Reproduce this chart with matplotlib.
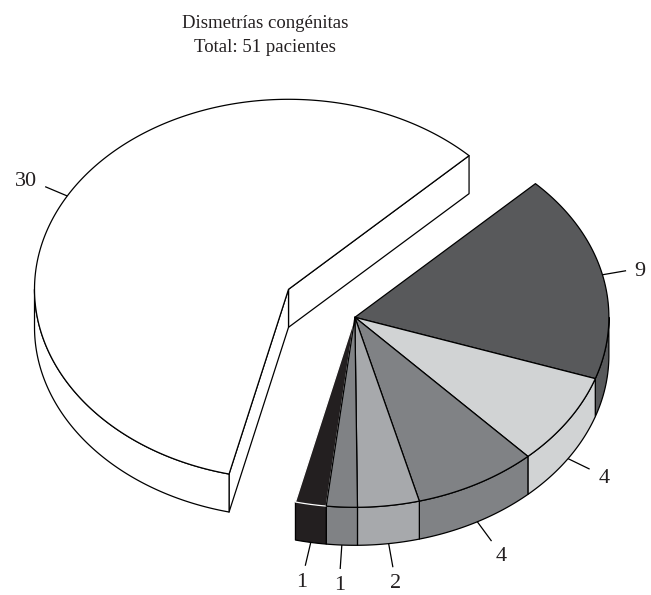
import numpy as np
import matplotlib
matplotlib.use("Agg")
import matplotlib.pyplot as plt
from matplotlib.patches import Polygon

# Patients per group of congenital limb-length discrepancy
values = [9, 4, 4, 2, 1, 1, 30]
labels = ["9", "4", "4", "2", "1", "1", "30"]
colors = ["#58595b", "#d1d3d4", "#808285", "#a7a9ac", "#808285", "#231f20", "#ffffff"]
# which exploded block each slice belongs to
block = [1, 1, 1, 1, 1, 1, 0]

title_lines = ["Dismetrías congénitas", "Total: 51 pacientes"]

# drawing geometry (pixel space)
W, H = 651, 595
CX, CY = 321.7, 303.3      # pie centre before exploding
RX, RY = 254.0, 190.0      # projected top-face ellipse
DEPTH = 38.0
START = 44.7               # degrees, slices run clockwise
EXPLODE = 0.15
EDGE_LW = 0.9
FONT = "Liberation Serif"
LABEL_SIZE = 16
DIGIT_H = 15.0             # approx. digit height in px at LABEL_SIZE

fig = plt.figure(figsize=(W / 100, H / 100), dpi=100)
ax = fig.add_axes([0, 0, 1, 1])
ax.set_xlim(0, W)
ax.set_ylim(H, 0)
ax.axis("off")

total = float(sum(values))
cum = np.concatenate([[0], np.cumsum(values)]) / total * 360.0
his = START - cum[:-1]
los = START - cum[1:]


def pt(c, t, dz=0.0):
    r = np.radians(t)
    return np.array([c[0] + RX * np.cos(r), c[1] - RY * np.sin(r) + dz])


def arc(c, t0, t1, dz=0.0, n=None):
    if n is None:
        n = max(2, int(abs(t1 - t0) * 2) + 2)
    ts = np.linspace(t0, t1, n)
    return np.array([pt(c, t, dz) for t in ts])


# centre of each exploded block
centres = {}
for g in set(block):
    idx = [i for i, b in enumerate(block) if b == g]
    lo = min(los[i] for i in idx)
    hi = max(his[i] for i in idx)
    mid = np.radians((lo + hi) / 2.0)
    centres[g] = (CX + EXPLODE * RX * np.cos(mid), CY - EXPLODE * RY * np.sin(mid))


def visible_front(lo, hi):
    """Pieces of [lo, hi] lying on the front half of the rim (sin < 0)."""
    out = []
    for k in range(-2, 3):
        a0, a1 = -180 + 360 * k, 360 * k
        s0, s1 = max(lo, a0), min(hi, a1)
        if s1 > s0:
            out.append((s0, s1))
    return out


def face(poly, fc, ec="black", z=1):
    ax.add_patch(Polygon(poly, closed=True, facecolor=fc, edgecolor=ec,
                         linewidth=EDGE_LW, joinstyle="round", zorder=z))


# sides first (cut faces of each block, then the rims)
for g in sorted(centres):
    c = centres[g]
    idx = [i for i, b in enumerate(block) if b == g]
    lo = min(los[i] for i in idx)
    hi = max(his[i] for i in idx)
    apex_top = np.array(c)
    apex_bot = apex_top + [0, DEPTH]
    if np.cos(np.radians(lo)) > 0:
        i = idx[[los[j] for j in idx].index(lo)]
        p = pt(c, lo)
        face([apex_top, p, p + [0, DEPTH], apex_bot], colors[i], z=1)
    if np.cos(np.radians(hi)) < 0:
        i = idx[[his[j] for j in idx].index(hi)]
        p = pt(c, hi)
        face([apex_top, p, p + [0, DEPTH], apex_bot], colors[i], z=1)
    for i in idx:
        for s0, s1 in visible_front(los[i], his[i]):
            top = arc(c, s0, s1)
            bot = arc(c, s1, s0, DEPTH)
            face(np.vstack([top, bot]), colors[i], z=2)

# top faces
for g in sorted(centres):
    c = centres[g]
    idx = [i for i, b in enumerate(block) if b == g]
    for i in idx:
        poly = np.vstack([[c], arc(c, his[i], los[i])])
        ec = "white" if colors[i] == "#231f20" else "black"
        face(poly, colors[i], ec=ec, z=3 if ec == "white" else 4)

# leader lines and value labels
LEAD = 24.0
GAP = 5.0
for i, lab in enumerate(labels):
    c = centres[block[i]]
    m = (his[i] + los[i]) / 2.0
    r = np.radians(m)
    front = np.sin(r) < 0
    start = pt(c, m, DEPTH if front else 0.0)
    d = np.array([RX * np.cos(r), -RY * np.sin(r)])
    d = d / np.hypot(*d)
    end = start + d * LEAD
    ax.plot([start[0], end[0]], [start[1], end[1]], color="black",
            lw=EDGE_LW, zorder=5, solid_capstyle="butt")
    w = 10.5 * len(lab)
    off = LEAD + GAP + abs(d[0]) * (w / 2 + 3) + abs(d[1]) * DIGIT_H / 2
    pos = start + d * off
    ax.text(pos[0], pos[1] + DIGIT_H / 2, lab, ha="center", va="baseline",
            fontsize=LABEL_SIZE, family=FONT, color="#231f20", zorder=6)

ax.text(265, 28, title_lines[0], ha="center", va="baseline", fontsize=13.5,
        family=FONT, color="#231f20")
ax.text(265, 51.5, title_lines[1], ha="center", va="baseline", fontsize=13.5,
        family=FONT, color="#231f20")

fig.savefig("out.png", dpi=100, facecolor="white")
